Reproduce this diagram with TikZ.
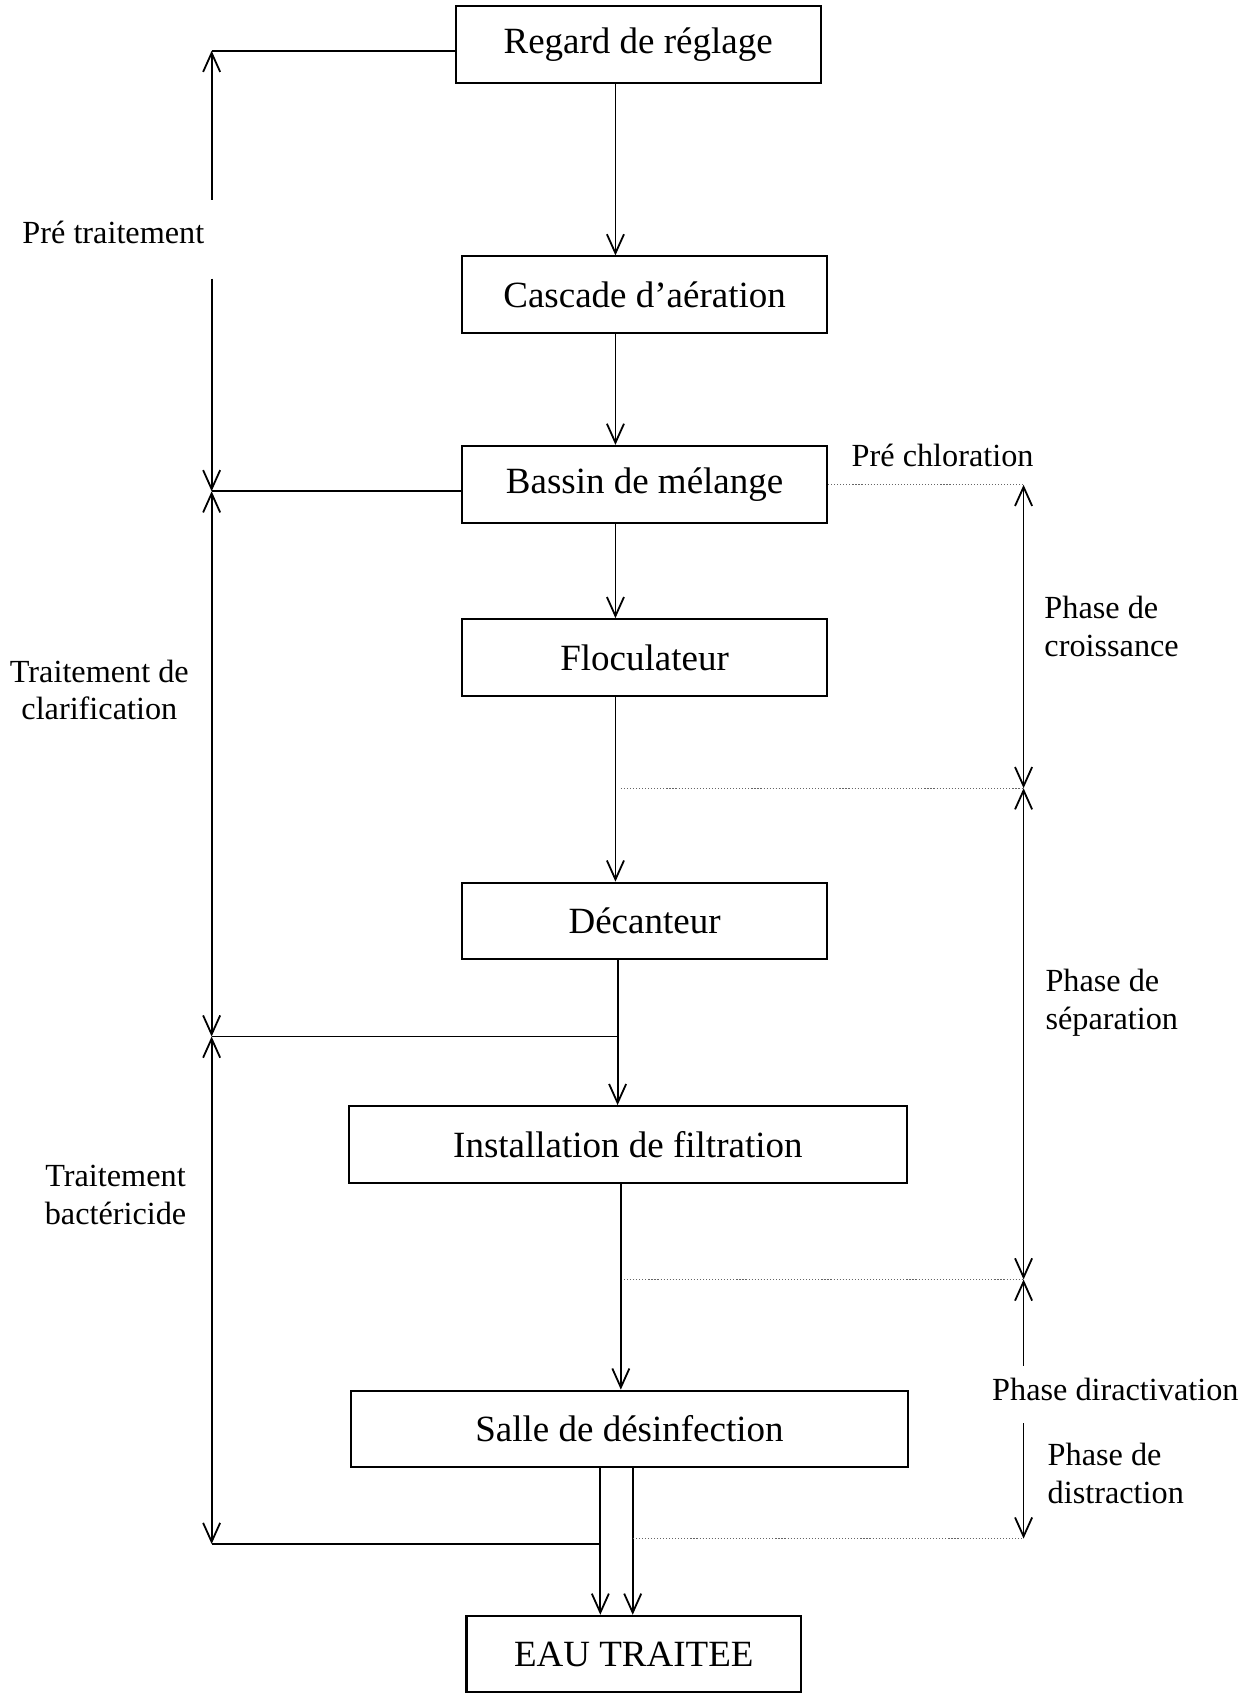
\documentclass[tikz,border=0pt]{standalone}
\usepackage{fontspec}
\setmainfont{Liberation Serif}
\usepackage{tikz}
\usetikzlibrary{arrows.meta}

\tikzset{
    box/.style={draw, line width=1.1pt, inner sep=0pt, minimum height=1.42cm, font=\fontsize{19.5}{23}\selectfont},
    lbl/.style={inner sep=0pt, font=\fontsize{17}{20}\selectfont},
    flow/.style={line width=0.95pt, -{Straight Barb[length=10pt,width=9pt]}},
    back/.style={line width=0.95pt, {Straight Barb[length=10pt,width=9pt]}-},
    both/.style={line width=0.95pt, {Straight Barb[length=10pt,width=9pt]}-{Straight Barb[length=10pt,width=9pt]}},
    link/.style={line width=0.95pt},
    guide/.style={line width=0.6pt, gray!80!black, densely dotted}
}

\begin{document}
\begin{tikzpicture}[x=0.02cm, y=-0.02cm]
        \useasboundingbox (0,0) rectangle (1160,1568);

        \node[box, minimum width=6.76cm] (regard) at (591, 41) {Regard de réglage};
        \node[box, minimum width=6.76cm] (cascade) at (597, 273) {Cascade d’aération};
        \node[box, minimum width=6.76cm] (bassin) at (597, 448.5) {Bassin de mélange};
        \node[box, minimum width=6.76cm] (floc) at (597, 609) {Floculateur};
        \node[box, minimum width=6.76cm] (decant) at (597, 853) {Décanteur};
        \node[box, minimum width=10.34cm] (filtre) at (581.5, 1060) {Installation de filtration};
        \node[box, minimum width=10.32cm] (salle) at (583, 1323.5) {Salle de désinfection};
        \node[box, minimum width=6.2cm] (eau) at (587, 1532) {EAU TRAITEE};

        \coordinate (s1) at (570, 0);
        \coordinate (s2) at (572, 0);
        \coordinate (s3) at (575, 0);
        \coordinate (e1) at (556, 0);
        \coordinate (e2) at (586, 0);

        \draw[flow] (regard.south -| s1) -- (cascade.north -| s1);
        \draw[flow] (cascade.south -| s1) -- (bassin.north -| s1);
        \draw[flow] (bassin.south -| s1) -- (floc.north -| s1);
        \draw[flow] (floc.south -| s1) -- (decant.north -| s1);
        \draw[flow] (decant.south -| s2) -- (filtre.north -| s2);
        \draw[flow] (filtre.south -| s3) -- (salle.north -| s3);
        \draw[flow] (salle.south -| e1) -- (eau.north -| e1);
        \draw[flow] (salle.south -| e2) -- (eau.north -| e2);

        \node[lbl] (pretrait) at (105, 215) {Pré traitement};
        \node[lbl, align=center] (clarif) at (92, 639) {Traitement de\\clarification};
        \node[lbl, align=center] (bact) at (107, 1107) {Traitement\\bactéricide};

        \coordinate (g1) at (196, 47);
        \coordinate (g1b) at (196, 185);
        \coordinate (g2a) at (196, 258);
        \coordinate (g2) at (196, 455);
        \coordinate (g3) at (196, 960);
        \coordinate (g4) at (196, 1430);

        \draw[link] (g1) -- (g1 -| regard.west);
        \draw[link] (g2) -- (g2 -| bassin.west);
        \draw[link] (g3) -- (g3 -| s2);
        \draw[link] (g4) -- (g4 -| e1);
        \draw[back] (g1) -- (g1b);
        \draw[flow] (g2a) -- (g2);
        \draw[both] (g2) -- (g3);
        \draw[both] (g3) -- (g4);

        \node[lbl] (prechlor) at (873, 422) {Pré chloration};
        \node[lbl, align=left, anchor=west] (croiss) at (967, 580) {Phase de\\croissance};
        \node[lbl, align=left, anchor=west] (separ) at (968, 929) {Phase de\\séparation};
        \node[lbl] (diract) at (1033, 1287) {Phase diractivation};
        \node[lbl, align=left, anchor=west] (distr) at (970, 1365) {Phase de\\distraction};

        \coordinate (d1) at (948, 449);
        \coordinate (d2) at (948, 730);
        \coordinate (d3) at (948, 1185);
        \coordinate (d3b) at (948, 1265);
        \coordinate (d4a) at (948, 1318);
        \coordinate (d4) at (948, 1425);

        \draw[guide] (bassin.east |- d1) -- (d1);
        \draw[guide] (d2 -| s3) -- (d2);
        \draw[guide] (d3 -| 578, 0) -- (d3);
        \draw[guide] (d4 -| e2) -- (d4);
        \draw[both] (d1) -- (d2);
        \draw[both] (d2) -- (d3);
        \draw[back] (d3) -- (d3b);
        \draw[flow] (d4a) -- (d4);
    \end{tikzpicture}
\end{document}
